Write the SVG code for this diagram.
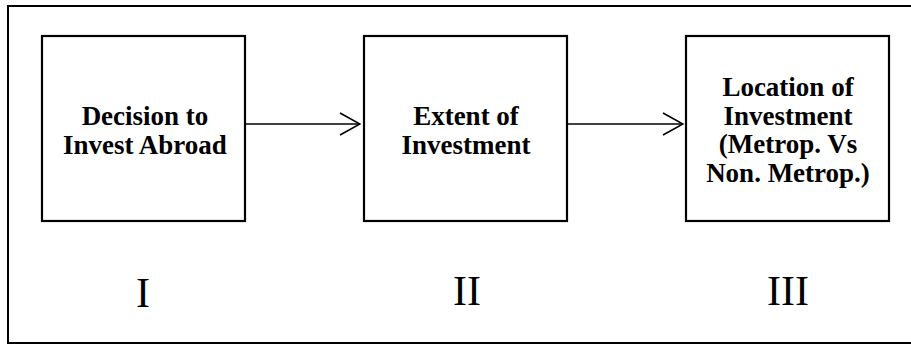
<svg xmlns="http://www.w3.org/2000/svg" width="911" height="345" viewBox="0 0 911 345">
<style>
.frame{fill:none;stroke:#000;stroke-width:2}
.box{fill:#fff;stroke:#000;stroke-width:2.2}
.conn{fill:none;stroke:#000;stroke-width:1.5}
.lbl{font-family:"Liberation Serif","Times New Roman",serif;font-weight:bold;font-size:27px;text-anchor:middle;fill:#000}
.num{font-family:"Liberation Serif","Times New Roman",serif;font-size:42px;text-anchor:middle;fill:#000}
</style>
<defs>
<marker id="arr" viewBox="0 0 22 24" refX="21" refY="12" markerWidth="22" markerHeight="24" markerUnits="userSpaceOnUse" orient="auto">
<path d="M1,1 L21,12 L1,23" fill="none" stroke="#000" stroke-width="1.6"/>
</marker>
</defs>
<rect class="frame" x="8" y="6" width="910" height="337"/>
<g id="connectors">
<line class="conn" x1="245" y1="124" x2="360" y2="124" marker-end="url(#arr)"/>
<line class="conn" x1="567" y1="124" x2="683" y2="124" marker-end="url(#arr)"/>
</g>
<g id="node1">
<rect class="box" x="42" y="36" width="203" height="185"/>
<text class="lbl" x="145" y="125">Decision to</text>
<text class="lbl" x="145" y="154">Invest Abroad</text>
</g>
<g id="node2">
<rect class="box" x="364" y="36" width="203" height="185"/>
<text class="lbl" x="466" y="125">Extent of</text>
<text class="lbl" x="466" y="154">Investment</text>
</g>
<g id="node3">
<rect class="box" x="686" y="36" width="203" height="185"/>
<text class="lbl" x="788" y="96">Location of</text>
<text class="lbl" x="788" y="125">Investment</text>
<text class="lbl" x="788" y="153">(Metrop. Vs</text>
<text class="lbl" x="788" y="182">Non. Metrop.)</text>
</g>
<g id="labels">
<text class="num" x="143" y="307">I</text>
<text class="num" x="467" y="305">II</text>
<text class="num" x="788" y="305">III</text>
</g>
</svg>
